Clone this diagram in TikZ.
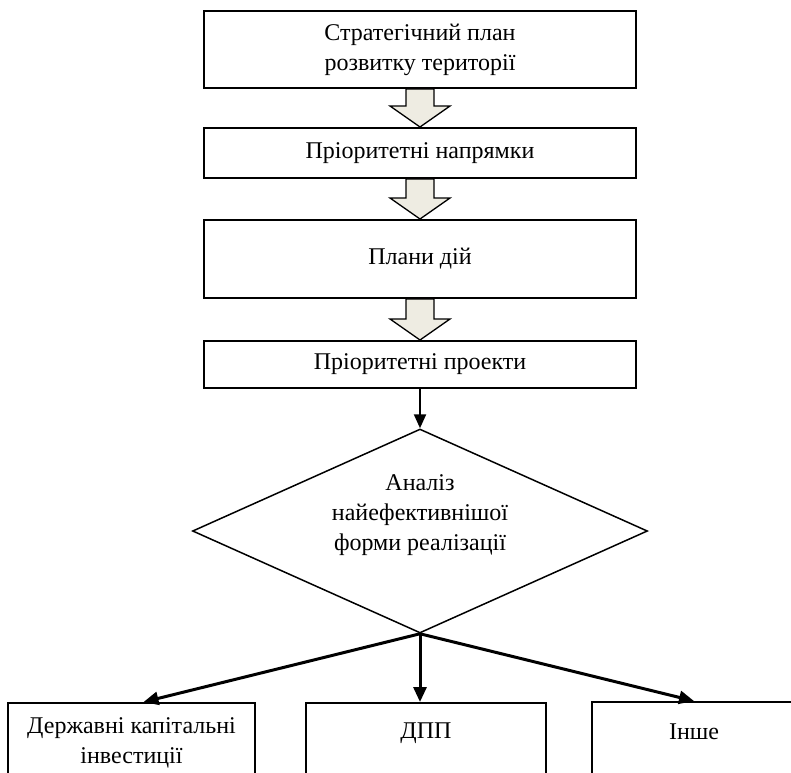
\documentclass[tikz,border=0pt]{standalone}
\usepackage{fontspec}
\setmainfont{Liberation Serif}
\usetikzlibrary{shapes.geometric,arrows.meta,calc}
\definecolor{arrfill}{RGB}{238,236,226}
\begin{document}
\begin{tikzpicture}[x=1pt,y=-1pt,
  txt/.style={font=\fontsize{24}{30}\selectfont,align=center,inner sep=0pt},
  box/.style={draw,line width=2pt,minimum width=432pt,inner sep=0pt,txt},
  lowbox/.style={draw,line width=2pt,inner sep=0pt,anchor=north,minimum height=100pt},
  blockarr/.style={draw,line width=1.3pt,fill=arrfill,line join=miter},
  conn/.style={line width=2.2pt,-{Triangle[length=14pt,width=12pt]}},
  fan/.style={line width=3pt,-{Triangle[length=15pt,width=13pt]}}
]
\useasboundingbox (0,0) rectangle (791,772);
\clip (0,0) rectangle (791,772);

\node[box,minimum height=77pt] (b1) at (420,49.5) {Стратегічний план\\розвитку території};
\node[box,minimum height=50pt] (b2) at (420,153) {Пріоритетні напрямки};
\node[box,minimum height=78pt] (b3) at (420,259) {Плани дій};
\node[box,minimum height=47pt] (b4) at (420,364.5) {Пріоритетні проекти};

\foreach \a/\b in {b1/b2,b2/b3,b3/b4}{
  \draw[blockarr] let \p1=(\a.south), \p2=(\b.north) in
    (\x1-14pt,\y1) -- (\x1+14pt,\y1) -- (\x1+14pt,\y2+21pt) -- (\x1+30pt,\y2+21pt)
    -- (\x1,\y2) -- (\x1-30pt,\y2+21pt) -- (\x1-14pt,\y2+21pt) -- cycle;
}

\node[draw,diamond,aspect=2.23,minimum width=455pt,minimum height=204pt,inner sep=0pt,line width=1.5pt] (d) at (420,531) {};
\node[txt] (dt) at (420,515) {Аналіз\\найефективнішої\\форми реалізації};

\draw[conn] (b4.south) -- (d.north);

\node[lowbox,minimum width=247pt] (c1) at (131.5,702) {};
\node[lowbox,minimum width=240pt] (c2) at (426,702) {};
\node[lowbox,minimum width=204pt] (c3) at (694,701) {};

\node[txt] (t1) at (131.5,742.5) {Державні капітальні\\інвестиції};
\node[txt] (t2) at (426,733) {ДПП};
\node[txt] (t3) at (694,732) {Інше};

\draw[fan] (d.south) -- ($(c1.north)+(12,0)$);
\draw[fan] (d.south) -- (d.south |- c2.north);
\draw[fan] (d.south) -- (c3.north);
\end{tikzpicture}
\end{document}
